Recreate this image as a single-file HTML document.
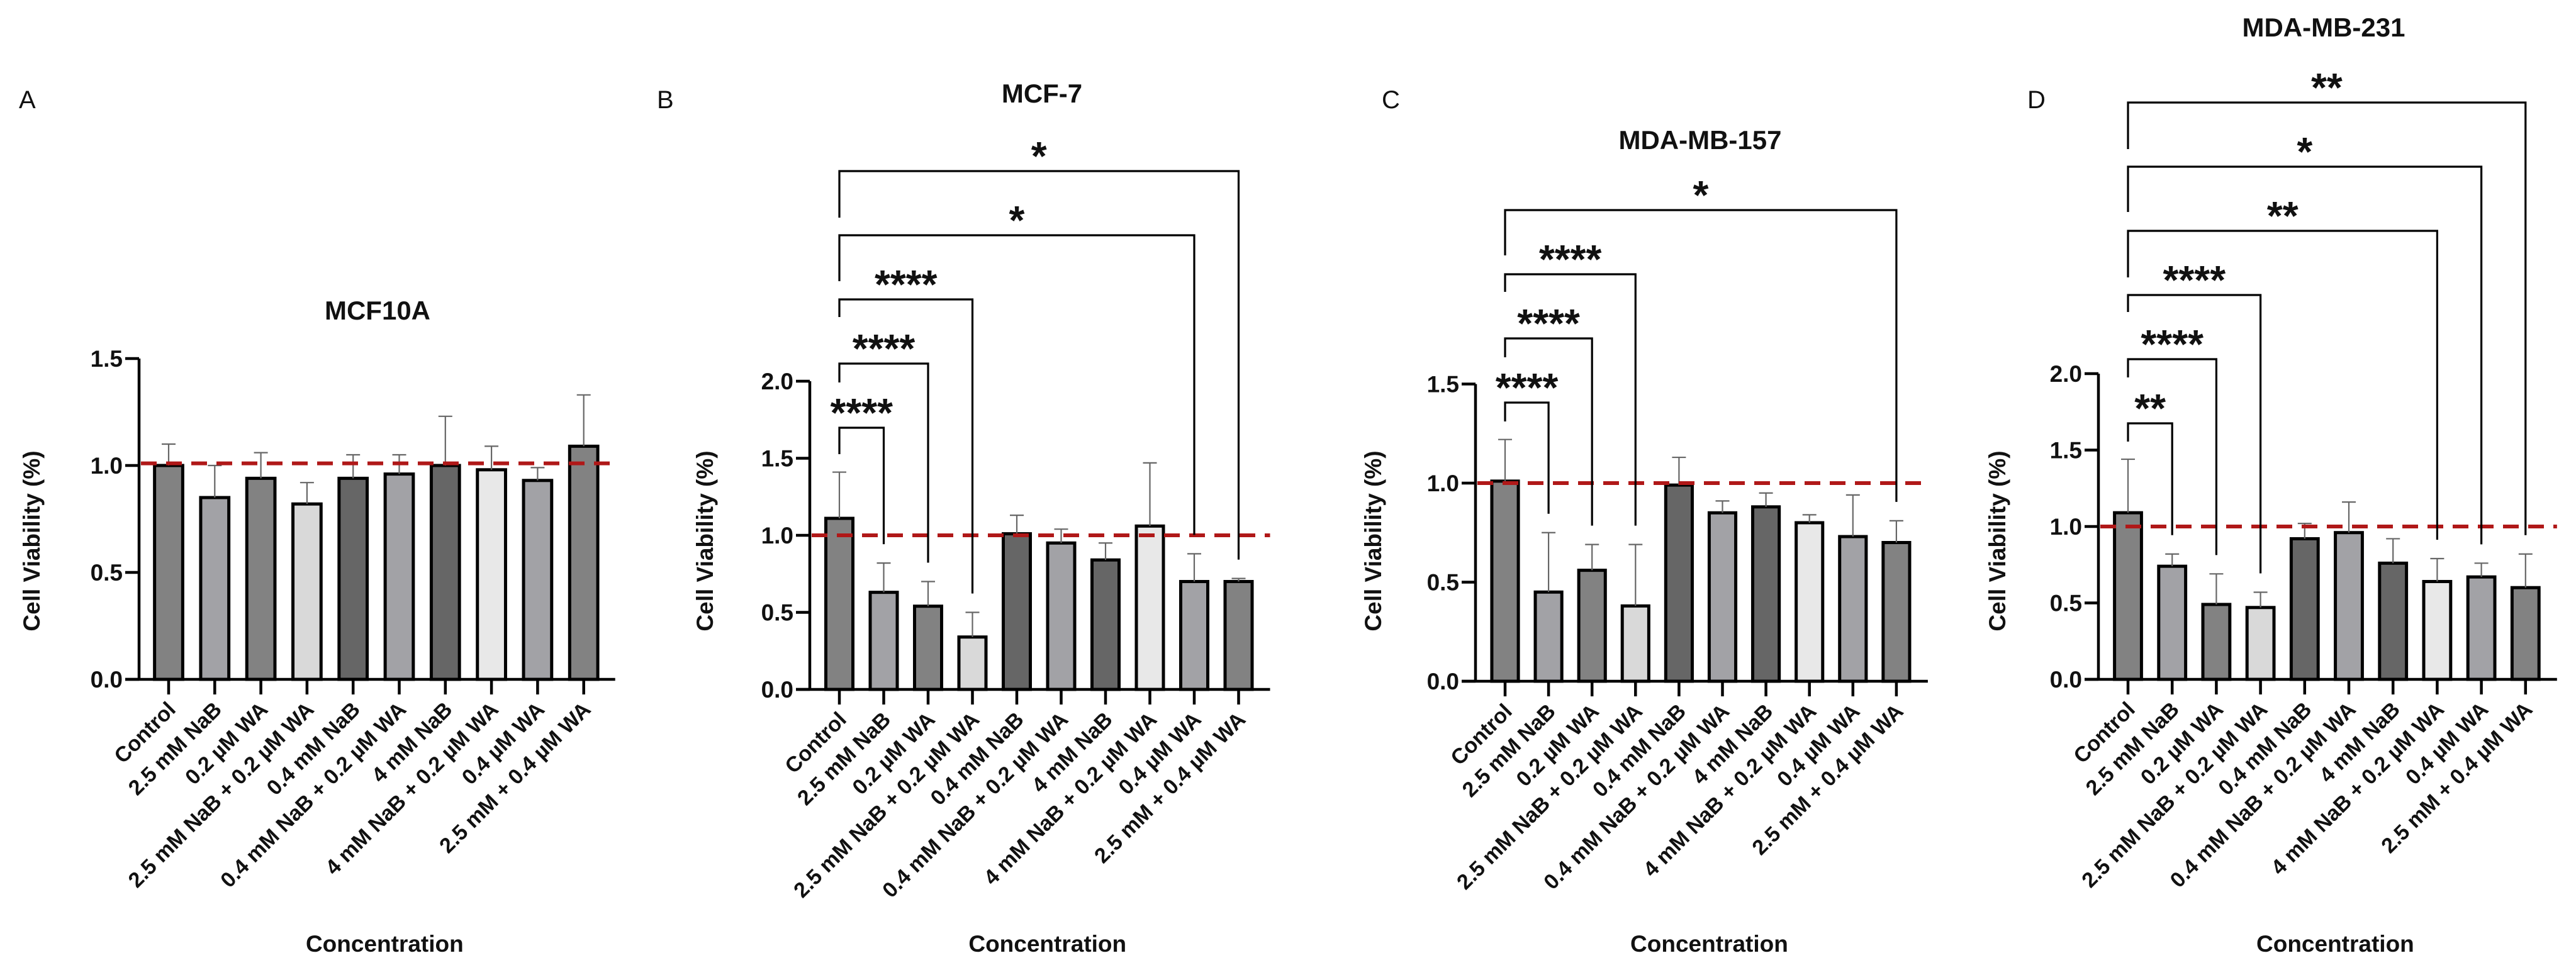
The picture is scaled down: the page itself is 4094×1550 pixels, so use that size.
<!DOCTYPE html>
<html><head><meta charset="utf-8"><style>
html,body{margin:0;padding:0;background:#fff;}
svg{display:block;}
text{font-family:"Liberation Sans",Arial,sans-serif;}
</style></head><body>
<svg id="fig" width="4094" height="1550" viewBox="0 0 4094 1550" xmlns="http://www.w3.org/2000/svg"></svg>
<script>
const categories = ["Control","2.5 mM NaB","0.2 µM WA","2.5 mM NaB + 0.2 µM WA","0.4 mM NaB","0.4 mM NaB + 0.2 µM WA","4 mM NaB","4 mM NaB + 0.2 µM WA","0.4 µM WA","2.5 mM + 0.4 µM WA"];
const barColors = ["#828282","#a2a2a6","#828282","#d9d9d9","#666666","#a2a2a6","#666666","#e8e8e8","#a2a2a6","#828282"];
const valuesA = [1.00,0.85,0.94,0.82,0.94,0.96,1.00,0.98,0.93,1.09];
const errorsA = [1.10,1.00,1.06,0.92,1.05,1.05,1.23,1.09,0.99,1.33];
const valuesB = [1.11,0.63,0.54,0.34,1.01,0.95,0.84,1.06,0.70,0.70];
const errorsB = [1.41,0.82,0.70,0.50,1.13,1.04,0.95,1.47,0.88,0.72];
const valuesC = [1.01,0.45,0.56,0.38,0.99,0.85,0.88,0.80,0.73,0.70];
const errorsC = [1.22,0.75,0.69,0.69,1.13,0.91,0.95,0.84,0.94,0.81];
const valuesD = [1.09,0.74,0.49,0.47,0.92,0.96,0.76,0.64,0.67,0.60];
const errorsD = [1.44,0.82,0.69,0.57,1.02,1.16,0.92,0.79,0.76,0.82];
const ticksA = [0.0,0.5,1.0,1.5];
const ticksB = [0.0,0.5,1.0,1.5,2.0];
const ticksC = [0.0,0.5,1.0,1.5];
const ticksD = [0.0,0.5,1.0,1.5,2.0];
const tickLabelsA = ["0.0","0.5","1.0","1.5"];
const tickLabelsB = ["0.0","0.5","1.0","1.5","2.0"];
const tickLabelsC = ["0.0","0.5","1.0","1.5"];
const tickLabelsD = ["0.0","0.5","1.0","1.5","2.0"];
const compTargetsB = [1,2,3,8,9];
const compStarsB = ["****","****","****","*","*"];
const compTargetsC = [1,2,3,9];
const compStarsC = ["****","****","****","*"];
const compTargetsD = [1,2,3,7,8,9];
const compStarsD = ["**","****","****","**","*","**"];

const NS = "http://www.w3.org/2000/svg";
const svg = document.getElementById("fig");
function mk(tag, attrs, parent){
  const e = document.createElementNS(NS, tag);
  for (const k in attrs) e.setAttribute(k, attrs[k]);
  (parent||svg).appendChild(e);
  return e;
}

const panels = [
  {id:"a", letter:"A", letterX:30, title:"MCF10A", titleX:600, titleY:508, axisX:221, y0:1080, pxPerUnit:340, yMax:1.5, pitch:73.3,
   values:valuesA, errors:errorsA, ticks:ticksA, tickLabels:tickLabelsA, refVal:1.01, ylabX:50, targets:[], stars:[], brBottom:0, legs:[]},
  {id:"b", letter:"B", letterX:1044, title:"MCF-7", titleX:1656, titleY:163, axisX:1287, y0:1096, pxPerUnit:245, yMax:2.0, pitch:70.5,
   values:valuesB, errors:errorsB, ticks:ticksB, tickLabels:tickLabelsB, refVal:1.0, ylabX:1120, targets:compTargetsB, stars:compStarsB, brBottom:680, legs:[42,30,28,73,74]},
  {id:"c", letter:"C", letterX:2196, title:"MDA-MB-157", titleX:2702, titleY:237, axisX:2345, y0:1083, pxPerUnit:315, yMax:1.5, pitch:69.1,
   values:valuesC, errors:errorsC, ticks:ticksC, tickLabels:tickLabelsC, refVal:1.0, ylabX:2182, targets:compTargetsC, stars:compStarsC, brBottom:640, legs:[30,30,28,72]},
  {id:"d", letter:"D", letterX:3222, title:"MDA-MB-231", titleX:3693, titleY:58, axisX:3335, y0:1080, pxPerUnit:243, yMax:2.0, pitch:70.2,
   values:valuesD, errors:errorsD, ticks:ticksD, tickLabels:tickLabelsD, refVal:1.0, ylabX:3174, targets:compTargetsD, stars:compStarsD, brBottom:673, legs:[29,29,27,74,72,74]}
];

panels.forEach(p => {
  const g = mk("g", {});
  
  
  const y = v => p.y0 - v * p.pxPerUnit;
  const x = i => p.axisX + 47 + i * p.pitch;
  const bw = p.pitch * 0.61;
  const xEnd = x(categories.length - 1) + 50;

  const lt = mk("text", {x:p.letterX, y:172, "font-size":40, fill:"#111"}, g);
  lt.textContent = p.letter;
  
  

  const tt = mk("text", {x:p.titleX, y:p.titleY, "font-size":42, "font-weight":"bold", "text-anchor":"middle", fill:"#111"}, g);
  tt.textContent = p.title;
  
  

  // bars
  p.values.forEach((v, i) => {
    const r = mk("rect", {x:x(i)-bw/2, y:y(v), width:bw, height:y(0)-y(v), fill:barColors[i], stroke:"#000", "stroke-width":5}, g);
    
    
  });
  // error bars
  p.errors.forEach((e, i) => {
    const eg = mk("g", {stroke:"#666", "stroke-width":2.2}, g);
    
    
    mk("line", {x1:x(i), x2:x(i), y1:y(p.values[i]), y2:y(e)}, eg);
    mk("line", {x1:x(i)-11, x2:x(i)+11, y1:y(e), y2:y(e)}, eg);
  });

  // axes
  const ax = mk("g", {stroke:"#000", "stroke-width":4.5}, g);
  
  
  mk("line", {x1:p.axisX, x2:p.axisX, y1:y(p.yMax), y2:y(0)+2}, ax);
  mk("line", {x1:p.axisX-22, x2:xEnd, y1:y(0), y2:y(0)}, ax);
  p.ticks.forEach((t, k) => {
    mk("line", {x1:p.axisX-22, x2:p.axisX, y1:y(t), y2:y(t)}, ax);
    const tl = mk("text", {x:p.axisX-26, y:y(t)+13, "font-size":37, "font-weight":"bold", "text-anchor":"end", fill:"#111", stroke:"none"}, g);
    tl.textContent = p.tickLabels[k];
    
    
  });
  categories.forEach((c, i) => {
    mk("line", {x1:x(i), x2:x(i), y1:y(0), y2:y(0)+24}, ax);
    const cl = mk("text", {x:0, y:0, "font-size":34, "font-weight":"bold", "text-anchor":"end", fill:"#111", stroke:"none",
      transform:"translate(" + (x(i)+13) + "," + (y(0)+50) + ") rotate(-45)"}, g);
    cl.textContent = c;
    
    
  });

  // reference line
  const rl = mk("line", {x1:p.axisX+3, x2:xEnd, y1:y(p.refVal), y2:y(p.refVal), stroke:"#b01818", "stroke-width":6, "stroke-dasharray":"25 15"}, g);
  
  

  // axis titles
  const yl = mk("text", {x:0, y:0, "font-size":37, "font-weight":"bold", "text-anchor":"middle", fill:"#111",
    transform:"translate(" + (p.ylabX+13) + ",860) rotate(-90)"}, g);
  yl.textContent = "Cell Viability (%)";
  
  
  const xl = mk("text", {x:(p.axisX + xEnd)/2 + 12, y:1513, "font-size":37, "font-weight":"bold", "text-anchor":"middle", fill:"#111"}, g);
  xl.textContent = "Concentration";
  
  

  // significance brackets
  p.targets.forEach((t, k) => {
    const by = p.brBottom - k * 102;
    const bg = mk("g", {}, g);
    
    
    const x0 = x(0), x1 = x(t);
    const rightEnd = y(p.errors[t]) - 30;
    mk("polyline", {points: x0 + "," + (by + p.legs[k]) + " " + x0 + "," + by + " " + x1 + "," + by + " " + x1 + "," + rightEnd,
      fill:"none", stroke:"#000", "stroke-width":3.2}, bg);
    const st = mk("text", {x:(x0+x1)/2, y:by - 38 + 36, "font-size":64, "font-weight":"bold", "text-anchor":"middle", fill:"#111"}, bg);
    st.textContent = p.stars[k];
    
    
  });
});
</script>
</body></html>
